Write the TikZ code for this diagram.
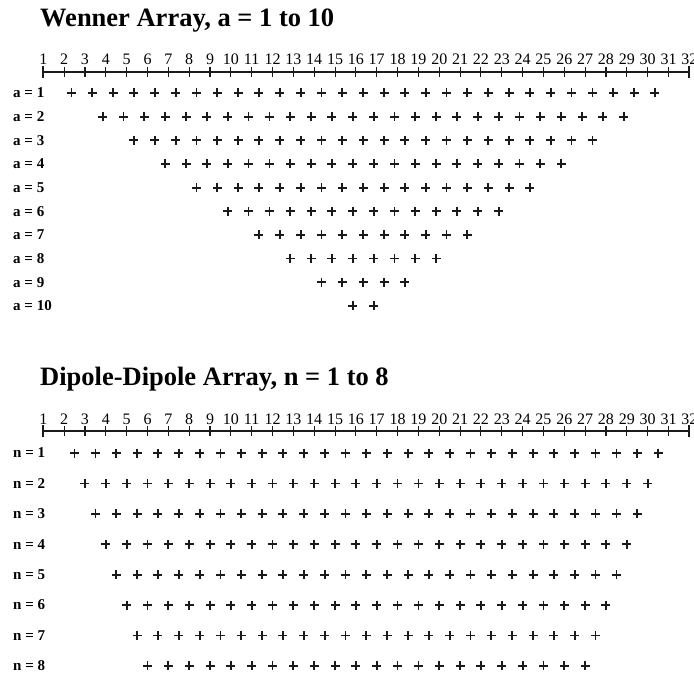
\documentclass[tikz,border=0pt]{standalone}
\usepackage{fontspec}
\setmainfont{Liberation Serif}
\usetikzlibrary{positioning}
\definecolor{ink}{HTML}{1A1A1A}
\tikzset{heading/.style={anchor=base west,inner sep=0pt,font=\bfseries\fontsize{26.5}{28}\selectfont},
  tickno/.style={anchor=base,inner sep=0pt,font=\fontsize{16}{18}\selectfont},
  rowlabel/.style={anchor=west,inner sep=0pt,font=\bfseries\fontsize{15}{17}\selectfont},
  rulerline/.style={draw=ink,line width=2.4pt},
  ruletick/.style={draw=ink,line width=1.1pt},
  endtick/.style={draw=ink,line width=1.7pt},
  plusmark/.style={draw=ink,line width=1.8pt}}

\begin{document}
\begin{tikzpicture}[x=1pt,y=-1pt]
\useasboundingbox (0,0) rectangle (694,677);
\node[heading] (wtitle) at (40,27) {Wenner Array, a = 1 to 10};
\node[heading] (dtitle) at (40,385) {Dipole-Dipole Array, n = 1 to 8};
% electrode rulers, 32 positions each
\foreach \ry/\nm in {72/w,431/d}{
  \coordinate (\nm e1) at (43.3,\ry);\coordinate (\nm e32) at (689.3,\ry);
  \draw[rulerline] (\nm e1)--(\nm e32);
  \draw[endtick] ([yshift=6pt]\nm e1)--([yshift=-6pt]\nm e1);
  \draw[endtick] ([yshift=6pt]\nm e32)--([yshift=-6pt]\nm e32);
  \foreach \k in {1,...,32}{
    \pgfmathsetmacro\xx{43.3+20.84*(\k-1)}
    \draw[ruletick] (\xx,\ry-5)--(\xx,\ry+5);
    \node[tickno] (\nm n\k) at (\xx,\ry-7) {\k};}}
% Wenner: 32-3a points per row
\foreach \a in {1,...,10}{
  \pgfmathsetmacro\yy{93+23.65*(\a-1)}
  \pgfmathtruncatemacro\last{31-3*\a}
  \node[rowlabel] (wa\a) at (13,\yy) {a = \a};
  \foreach \j in {0,...,\last}{
    \pgfmathsetmacro\xx{43.3+20.84*(1.5*\a-0.15+\j)}
    \draw[plusmark] (\xx-4.5,\yy)--(\xx+4.5,\yy) (\xx,\yy-4.5)--(\xx,\yy+4.5);}}
% dipole-dipole: 30-n points per row
\foreach \n in {1,...,8}{
  \pgfmathsetmacro\yy{453+30.4*(\n-1)}
  \pgfmathtruncatemacro\last{29-\n}
  \node[rowlabel] (dn\n) at (13,\yy) {n = \n};
  \foreach \j in {0,...,\last}{
    \pgfmathsetmacro\xx{43.3+20.84*(1+0.5*\n+\j)}
    \draw[plusmark] (\xx-4.5,\yy)--(\xx+4.5,\yy) (\xx,\yy-4.5)--(\xx,\yy+4.5);}}
\end{tikzpicture}
\end{document}
